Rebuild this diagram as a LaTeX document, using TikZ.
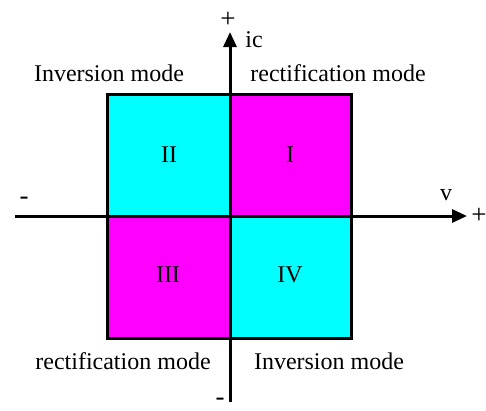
\documentclass[tikz,border=0pt]{standalone}
\usepackage{fontspec}
\setmainfont{Liberation Serif}
\usetikzlibrary{arrows.meta}
\definecolor{quadcyan}{RGB}{0,255,255}
\definecolor{quadmag}{RGB}{255,0,255}
\begin{document}
\begin{tikzpicture}[x=1bp,y=-1bp,
  quad/.style={draw=black,line width=3bp},
  lbl/.style={inner sep=0pt,anchor=base,font=\fontsize{24bp}{28bp}\selectfont},
  sign/.style={lbl,font=\fontsize{27bp}{30bp}\selectfont},
  axis/.style={line width=3bp,-{Triangle[length=15bp,width=13bp]}}]
\useasboundingbox (0,0) rectangle (486,410);
% quadrants
\path[quad,fill=quadcyan] (107,94) rectangle (230,216);
\path[quad,fill=quadmag] (230,94) rectangle (351,216);
\path[quad,fill=quadmag] (107,216) rectangle (230,338);
\path[quad,fill=quadcyan] (230,216) rectangle (351,338);
% axis coordinates
\coordinate (xs) at (15,216);
\coordinate (xe) at (467,216);
\coordinate (ys) at (230,402);
\coordinate (ye) at (230,32);
\draw[axis] (xs) -- (xe);
\draw[axis] (ys) -- (ye);
% labels
\node[lbl] (q2) at (169,162) {II};
\node[lbl] (q1) at (290,162) {I};
\node[lbl] (q3) at (168,282) {III};
\node[lbl] (q4) at (290,282) {IV};
\node[lbl] (tl) at (109,81) {Inversion mode};
\node[lbl] (tr) at (338,81) {rectification mode};
\node[lbl] (bl) at (123,369) {rectification mode};
\node[lbl] (br) at (329,369) {Inversion mode};
\node[lbl] (ic) at (254,47) {ic};
\node[lbl] (v) at (446,200) {v};
\node[sign] (yp) at (228,27) {+};
\node[sign] (xp) at (479,223) {+};
\node[sign] (xm) at (24,204) {-};
\node[sign] (ym) at (220,405) {-};
\end{tikzpicture}
\end{document}
